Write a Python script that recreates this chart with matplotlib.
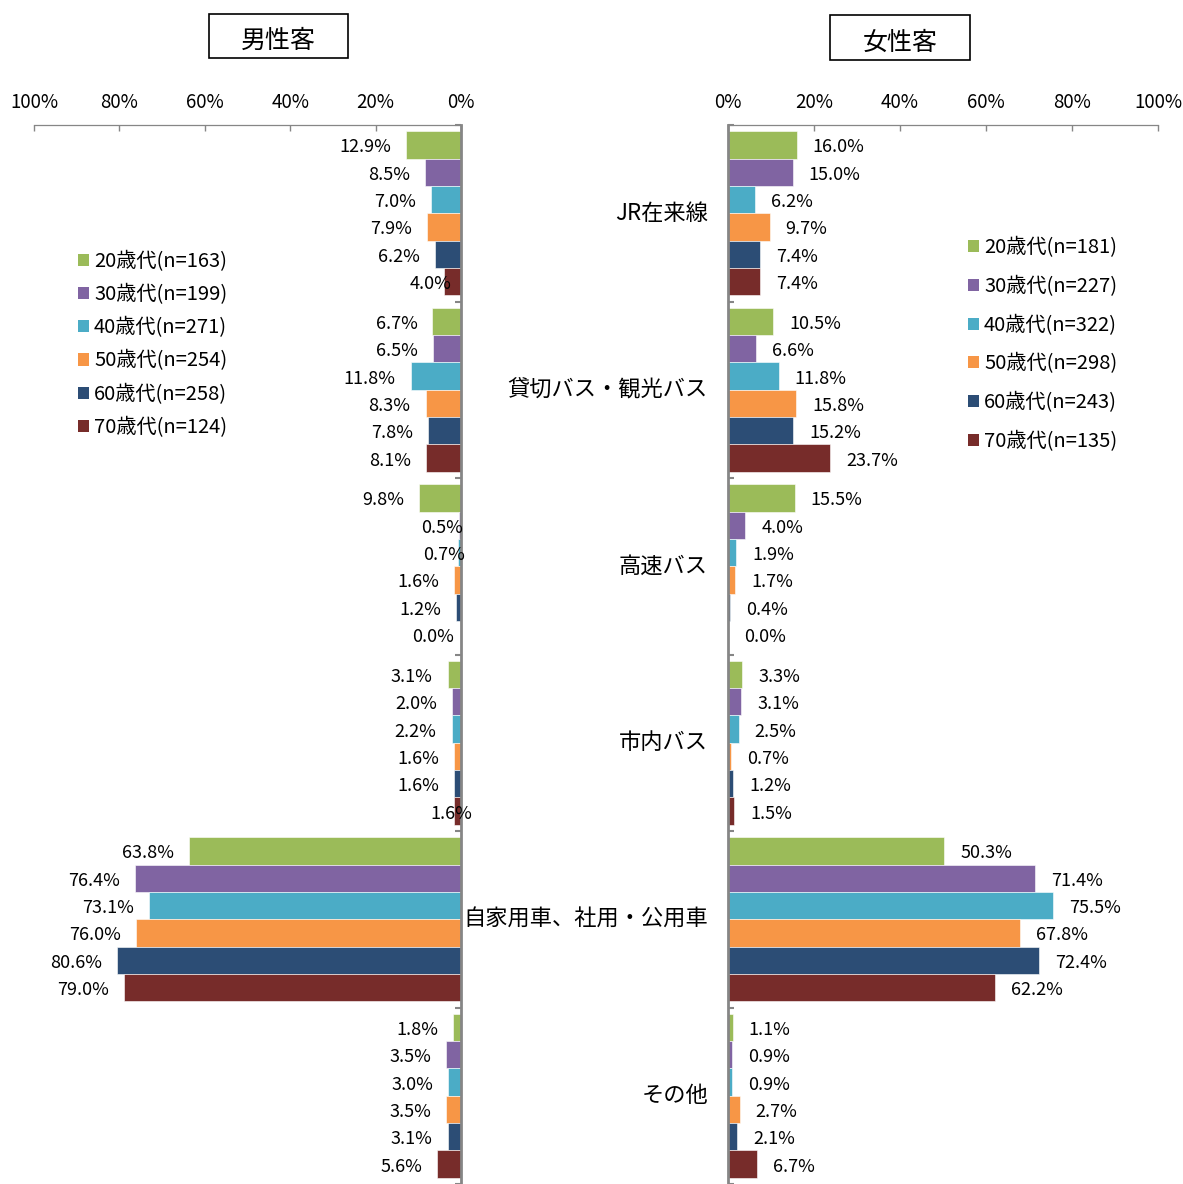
import matplotlib
matplotlib.use('Agg')
import matplotlib.pyplot as plt
from matplotlib.patches import Patch, Rectangle
import numpy as np

plt.rcParams['font.family'] = ['Noto Sans CJK JP', 'DejaVu Sans']

# ---- データ ----
categories = ['JR在来線', '貸切バス・観光バス', '高速バス', '市内バス', '自家用車、社用・公用車', 'その他']
ages = ['20歳代', '30歳代', '40歳代', '50歳代', '60歳代', '70歳代']
n_male = [163, 199, 271, 254, 258, 124]
n_female = [181, 227, 322, 298, 243, 135]
# 行=交通手段, 列=年代 (%)
male = np.array([
    [12.9, 8.5, 7.0, 7.9, 6.2, 4.0],
    [6.7, 6.5, 11.8, 8.3, 7.8, 8.1],
    [9.8, 0.5, 0.7, 1.6, 1.2, 0.0],
    [3.1, 2.0, 2.2, 1.6, 1.6, 1.6],
    [63.8, 76.4, 73.1, 76.0, 80.6, 79.0],
    [1.8, 3.5, 3.0, 3.5, 3.1, 5.6],
])
female = np.array([
    [16.0, 15.0, 6.2, 9.7, 7.4, 7.4],
    [10.5, 6.6, 11.8, 15.8, 15.2, 23.7],
    [15.5, 4.0, 1.9, 1.7, 0.4, 0.0],
    [3.3, 3.1, 2.5, 0.7, 1.2, 1.5],
    [50.3, 71.4, 75.5, 67.8, 72.4, 62.2],
    [1.1, 0.9, 0.9, 2.7, 2.1, 6.7],
])
colors = ['#9BBB59', '#8064A2', '#4BACC6', '#F79646', '#2C4D75', '#772C2A']

# 男性側ラベルの手動ずらし (px, 既定 -15)
male_lab_off = {(0, 5): 8, (2, 1): 4, (2, 2): 7, (2, 5): -7, (3, 5): 18}

W, H = 1183, 1184
fig = plt.figure(figsize=(W / 100, H / 100), dpi=100)
top = 125
axL = fig.add_axes([34 / W, 0, 427 / W, (H - top) / H])
axR = fig.add_axes([728 / W, 0, 430 / W, (H - top) / H])

bw = 0.155
y0 = 0.035 + bw / 2
ng, ns = male.shape
gray = '#868686'


def px2pt(v):
    return v * 0.72


for ax, data, side in [(axL, male, 'L'), (axR, female, 'R')]:
    for k in range(ns):
        ys = np.arange(ng) + y0 + k * bw
        ax.barh(ys, data[:, k], height=bw, color=colors[k], edgecolor='white', linewidth=0.4, zorder=2)
        for g in range(ng):
            v = data[g, k]
            if side == 'L':
                off = male_lab_off.get((g, k), -15)
                ax.annotate(f'{v:.1f}%', (v, ys[g]), xytext=(px2pt(off), px2pt(-2.5)), textcoords='offset points',
                            ha='right', va='center', fontsize=13, zorder=5)
            else:
                ax.annotate(f'{v:.1f}%', (v, ys[g]), xytext=(px2pt(16), px2pt(-2.5)), textcoords='offset points',
                            ha='left', va='center', fontsize=13, zorder=5)
    ax.set_ylim(ng, 0)
    ax.set_yticks(np.arange(ng + 1))
    ax.set_xticks(np.arange(0, 101, 20))
    ax.set_xticklabels([f'{t}%' for t in range(0, 101, 20)])
    ax.xaxis.tick_top()
    ax.tick_params(axis='x', direction='in', length=4.5, color=gray, width=1, labelsize=13.5, pad=9)
    ax.tick_params(axis='y', direction='in', length=4.5, color=gray, width=1.5, labelleft=False, labelright=False)
    ax.spines['bottom'].set_visible(False)
    ax.spines['top'].set_color(gray)
    ax.spines['top'].set_linewidth(0.9)
    ax.patch.set_visible(False)

# 男性: 右軸・反転
axL.set_xlim(100, 0)
axL.yaxis.tick_right()
axL.spines['left'].set_visible(False)
axL.spines['right'].set_color(gray)
axL.spines['right'].set_linewidth(2)
# 女性
axR.set_xlim(0, 100)
axR.spines['right'].set_visible(False)
axR.spines['left'].set_color(gray)
axR.spines['left'].set_linewidth(2)

# 交通手段ラベル
for g, c in enumerate(categories):
    axR.annotate(c, (0, g + 0.5), xycoords=('axes fraction', 'data'), xytext=(px2pt(-20), 0),
                 textcoords='offset points', ha='right', va='center', fontsize=16)

# 凡例
hL = [Patch(facecolor=colors[k]) for k in range(ns)]
fig.legend(hL, [f'{a}(n={n})' for a, n in zip(ages, n_male)], loc='upper left',
           bbox_to_anchor=(78 / W, 1 - 251 / H), frameon=False, fontsize=14.5, borderpad=0,
           borderaxespad=0, handlelength=0.55, handleheight=0.55, handletextpad=0.25, labelspacing=0.6)
fig.legend(hL, [f'{a}(n={n})' for a, n in zip(ages, n_female)], loc='upper left',
           bbox_to_anchor=(968 / W, 1 - 237 / H), frameon=False, fontsize=14.5, borderpad=0,
           borderaxespad=0, handlelength=0.55, handleheight=0.55, handletextpad=0.25, labelspacing=0.88)

# タイトル枠
for (x0, y0b, x1, y1), t in [((209, 14, 348, 58), '男性客'), ((830, 15, 970, 60), '女性客')]:
    fig.patches.append(Rectangle((x0 / W, 1 - y1 / H), (x1 - x0) / W, (y1 - y0b) / H,
                                 transform=fig.transFigure, fill=False, edgecolor='black', linewidth=1.2))
    fig.text((x0 + x1) / 2 / W, 1 - ((y0b + y1) / 2 + 5) / H, t, ha='center', va='center', fontsize=18)

fig.savefig('out.png', dpi=100)
